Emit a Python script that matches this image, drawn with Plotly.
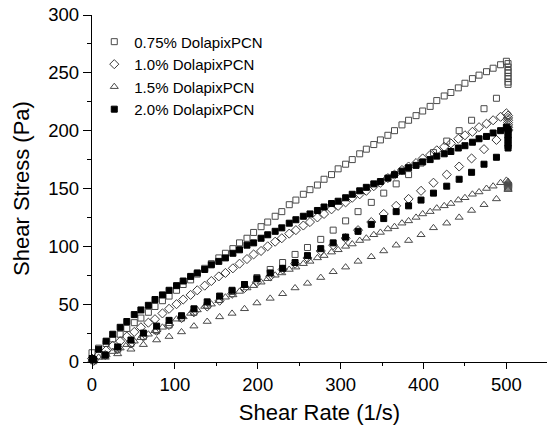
import plotly.graph_objects as go

# ---------------- data ----------------
series_names = ["0.75% DolapixPCN", "1.0% DolapixPCN", "1.5% DolapixPCN", "2.0% DolapixPCN"]

# ramp-up shear rates (1/s)
x_up = [0, 8, 17, 25, 34, 42, 51, 59, 68, 76, 85, 93, 102, 110, 119, 127, 136, 144, 153, 161,
        170, 178, 187, 195, 204, 212, 221, 229, 238, 246, 255, 263, 272, 280, 289, 297, 306, 314, 323, 331,
        340, 348, 357, 365, 374, 382, 391, 399, 408, 416, 425, 433, 442, 450, 459, 467, 476, 484, 493, 500]
# hold at maximum shear rate
x_hold = [502, 502, 502, 502, 502, 502, 502, 502]
# ramp-down shear rates (1/s)
x_down = [488, 473, 458, 443, 428, 412, 397, 382, 367, 352, 337, 321, 306, 291, 276, 260, 245, 230,
          215, 199, 184, 169, 154, 139, 123, 108, 93, 78, 62, 47, 31, 16, 2]

# 0.75 % DolapixPCN
up_075 = [8, 12, 16, 20, 24, 29, 34, 38, 43, 48, 53, 57, 62, 67, 71, 76, 81, 85, 90, 94,
          98, 103, 107, 112, 117, 121, 126, 130, 136, 140, 145, 149, 153, 158, 162, 167, 171, 175, 180, 184,
          188, 192, 196, 200, 205, 209, 213, 217, 221, 226, 230, 233, 237, 241, 245, 248, 251, 254, 257, 260]
hold_075 = [258, 255, 252, 250, 247, 245, 242, 240]
down_075 = [228, 219, 209, 200, 191, 181, 172, 162, 154, 146, 138, 130, 122, 114, 106, 99, 93, 86,
            80, 73, 67, 61, 54, 49, 43, 38, 32, 27, 22, 16, 11, 6, 1]

# 1.0 % DolapixPCN
up_10 = [3, 6, 10, 14, 18, 22, 26, 30, 34, 37, 42, 46, 50, 54, 58, 62, 66, 70, 74, 77,
         81, 85, 89, 93, 96, 100, 104, 107, 111, 114, 118, 121, 125, 128, 132, 135, 138, 142, 145, 148,
         152, 155, 159, 162, 166, 169, 172, 176, 179, 183, 186, 189, 193, 196, 199, 203, 206, 209, 212, 215]
hold_10 = [213, 211, 209, 207, 205, 203, 201, 200]
down_10 = [192, 184, 176, 169, 162, 155, 148, 141, 135, 128, 121, 114, 107, 101, 96, 90, 85, 80,
           74, 69, 64, 59, 53, 48, 43, 38, 32, 27, 22, 16, 11, 6, 1]

# 1.5 % DolapixPCN
up_15 = [2, 4, 6, 9, 12, 15, 18, 21, 24, 27, 30, 33, 37, 39, 42, 45, 48, 50, 53, 56,
         58, 61, 64, 66, 69, 72, 75, 77, 80, 82, 85, 87, 90, 92, 95, 97, 100, 102, 105, 107,
         110, 112, 115, 117, 120, 122, 125, 128, 130, 133, 135, 137, 140, 142, 145, 147, 150, 152, 155, 157]
hold_15 = [156, 155, 154, 153, 152, 151, 150, 149]
down_15 = [141, 136, 131, 125, 120, 116, 110, 105, 101, 96, 91, 87, 82, 78, 73, 68, 64, 59,
           55, 51, 46, 42, 39, 35, 31, 26, 22, 19, 15, 11, 7, 4, 1]

# 2.0 % DolapixPCN
up_20 = [3, 11, 18, 24, 30, 35, 41, 45, 49, 54, 58, 62, 66, 70, 74, 77, 80, 84, 87, 90,
         94, 97, 101, 103, 107, 110, 113, 116, 120, 123, 126, 128, 131, 134, 137, 139, 142, 145, 148, 151,
         154, 156, 159, 162, 165, 168, 170, 173, 175, 178, 180, 182, 185, 187, 190, 193, 195, 198, 200, 203]
hold_20 = [201, 199, 196, 194, 192, 189, 187, 185]
down_20 = [177, 171, 164, 158, 152, 146, 140, 135, 130, 124, 119, 113, 108, 103, 98, 92, 86, 81,
           77, 72, 67, 62, 57, 52, 46, 40, 36, 31, 25, 19, 13, 6, 2]

x_ticks = [0, 100, 200, 300, 400, 500]
y_ticks = [0, 50, 100, 150, 200, 250, 300]

# ---------------- figure ----------------
x_all = x_up + x_hold + x_down
ys = [up_075 + hold_075 + down_075,
      up_10 + hold_10 + down_10,
      up_15 + hold_15 + down_15,
      up_20 + hold_20 + down_20]
symbols = ["square-open", "diamond-open", "triangle-up-open", "square"]
sizes = [6, 7, 7, 6]
colors = ["#4a4a4a", "#3a3a3a", "#4a4a4a", "#000000"]

fig = go.Figure()
for name, y, sym, sz, col in zip(series_names, ys, symbols, sizes, colors):
    fig.add_trace(go.Scatter(
        x=x_all, y=y, mode="markers", name=name, cliponaxis=False,
        marker=dict(symbol=sym, size=sz, color=col, line=dict(width=1, color=col)),
    ))

FONT = "Liberation Sans, Arial, Helvetica, sans-serif"
fig.update_layout(
    width=547, height=425,
    margin=dict(l=92, r=0, t=15, b=63, autoexpand=False),
    paper_bgcolor="white", plot_bgcolor="white",
    font=dict(family=FONT, color="black", size=18),
    showlegend=True,
    legend=dict(x=0.005, y=0.97, xanchor="left", yanchor="top",
                font=dict(size=15, family=FONT, color="black"),
                bgcolor="rgba(0,0,0,0)", borderwidth=0, tracegroupgap=0,
                itemwidth=30),
)
fig.update_xaxes(
    range=[0, 549], tickvals=x_ticks, ticks="outside", ticklen=6, tickwidth=1.3,
    tickcolor="black", showline=True, linecolor="black", linewidth=1.3,
    showgrid=False, zeroline=False, tickfont=dict(size=18.5), automargin=False,
    minor=dict(dtick=50, ticks="outside", ticklen=3, tickwidth=1.3, tickcolor="black", showgrid=False),
    title=dict(text="Shear Rate (1/s)", font=dict(size=22), standoff=12),
)
fig.update_yaxes(
    range=[0, 300], tickvals=y_ticks, ticks="outside", ticklen=8, tickwidth=1.3,
    tickcolor="black", showline=True, linecolor="black", linewidth=1.3,
    showgrid=False, zeroline=False, tickfont=dict(size=18.5), automargin=False,
    minor=dict(dtick=25, ticks="outside", ticklen=4, tickwidth=1.3, tickcolor="black", showgrid=False),
    title=dict(text="Shear Stress (Pa)", font=dict(size=22), standoff=12),
)

fig.write_html("out.html", config={"displayModeBar": False},
               post_script="document.body.style.margin='0px';")
